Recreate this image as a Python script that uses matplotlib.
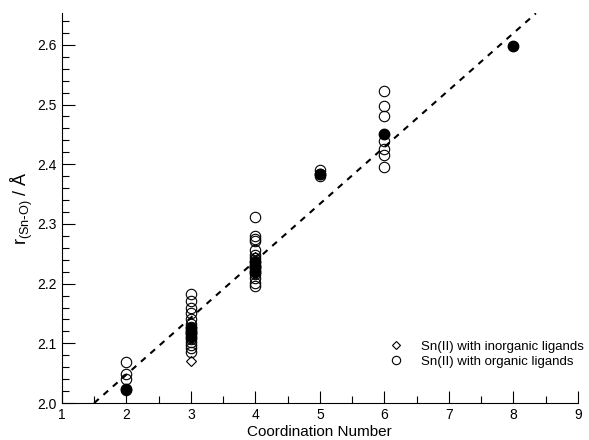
# Sn(II)-O bond length vs coordination number
import matplotlib.pyplot as plt
import numpy as np
from matplotlib.ticker import MultipleLocator

plt.rcParams['font.family'] = ['Liberation Sans', 'DejaVu Sans']

# organic ligands (open circles)
org_cn = [2, 2, 2, 2,
          3, 3, 3, 3, 3, 3, 3, 3, 3, 3, 3, 3, 3, 3, 3,
          4, 4, 4, 4, 4, 4, 4, 4, 4, 4, 4, 4, 4, 4, 4, 4,
          5, 5, 5,
          6, 6, 6, 6, 6, 6, 6]
org_r = [2.068, 2.048, 2.041, 2.022,
         2.183, 2.171, 2.160, 2.150, 2.140, 2.132, 2.127, 2.121, 2.115, 2.108,
         2.103, 2.098, 2.092, 2.086, 2.120,
         2.311, 2.280, 2.275, 2.271, 2.256, 2.248, 2.243, 2.238, 2.232, 2.226,
         2.221, 2.216, 2.210, 2.201, 2.196, 2.230,
         2.391, 2.384, 2.380,
         2.523, 2.498, 2.481, 2.439, 2.426, 2.416, 2.396]

# inorganic ligands (open diamonds)
inorg_cn = [3, 3, 4]
inorg_r = [2.070, 2.110, 2.245]

# filled circles
fill_cn = [2, 3, 3, 3, 4, 4, 4, 5, 6, 8]
fill_r = [2.024, 2.126, 2.118, 2.110, 2.236, 2.228, 2.220, 2.383, 2.450, 2.598]

# dashed fit line
fit_slope = 0.0953
fit_icept = 1.857

fig = plt.figure(figsize=(5.89, 4.40), dpi=100)
ax = fig.add_axes([0.105, 0.084, 0.876, 0.886])

xs = np.array([1.5, 8.35])
ax.plot(xs, fit_icept + fit_slope * xs, linestyle=(0, (3, 3)), color='black', linewidth=1.5)

ax.plot(inorg_cn, inorg_r, 'D', markersize=5.5, markerfacecolor='white',
        markeredgecolor='black', markeredgewidth=0.8, linestyle='none',
        label='Sn(II) with inorganic ligands')
ax.plot(org_cn, org_r, 'o', markersize=7.5, markerfacecolor='none',
        markeredgecolor='black', markeredgewidth=0.8, linestyle='none',
        label='Sn(II) with organic ligands')
ax.plot(fill_cn, fill_r, 'o', markersize=7.5, color='black', linestyle='none')

ax.set_xlim(1, 9)
ax.set_ylim(2.0, 2.653)
ax.xaxis.set_major_locator(MultipleLocator(1))
ax.xaxis.set_minor_locator(MultipleLocator(0.5))
ax.yaxis.set_major_locator(MultipleLocator(0.1))
ax.yaxis.set_minor_locator(MultipleLocator(0.02))
ax.yaxis.set_major_formatter(plt.FuncFormatter(lambda v, p: f"{v:.1f}"))
ax.tick_params(which='both', direction='in', labelsize=10, width=0.8)
ax.tick_params(which='major', length=9)
ax.tick_params(which='minor', length=5)
ax.spines['top'].set_visible(False)
ax.spines['right'].set_visible(False)

ax.set_xlabel('Coordination Number', fontsize=11, labelpad=2)
ax.set_ylabel(r'r$_{\mathregular{(Sn\text{-}O)}}$ / Å', fontsize=13, labelpad=2)

ax.legend(loc='lower right', bbox_to_anchor=(1.035, 0.06), frameon=False,
          fontsize=9.5, handletextpad=0.9, labelspacing=0.2, markerscale=0.8)

fig.savefig('out.png', dpi=100)
